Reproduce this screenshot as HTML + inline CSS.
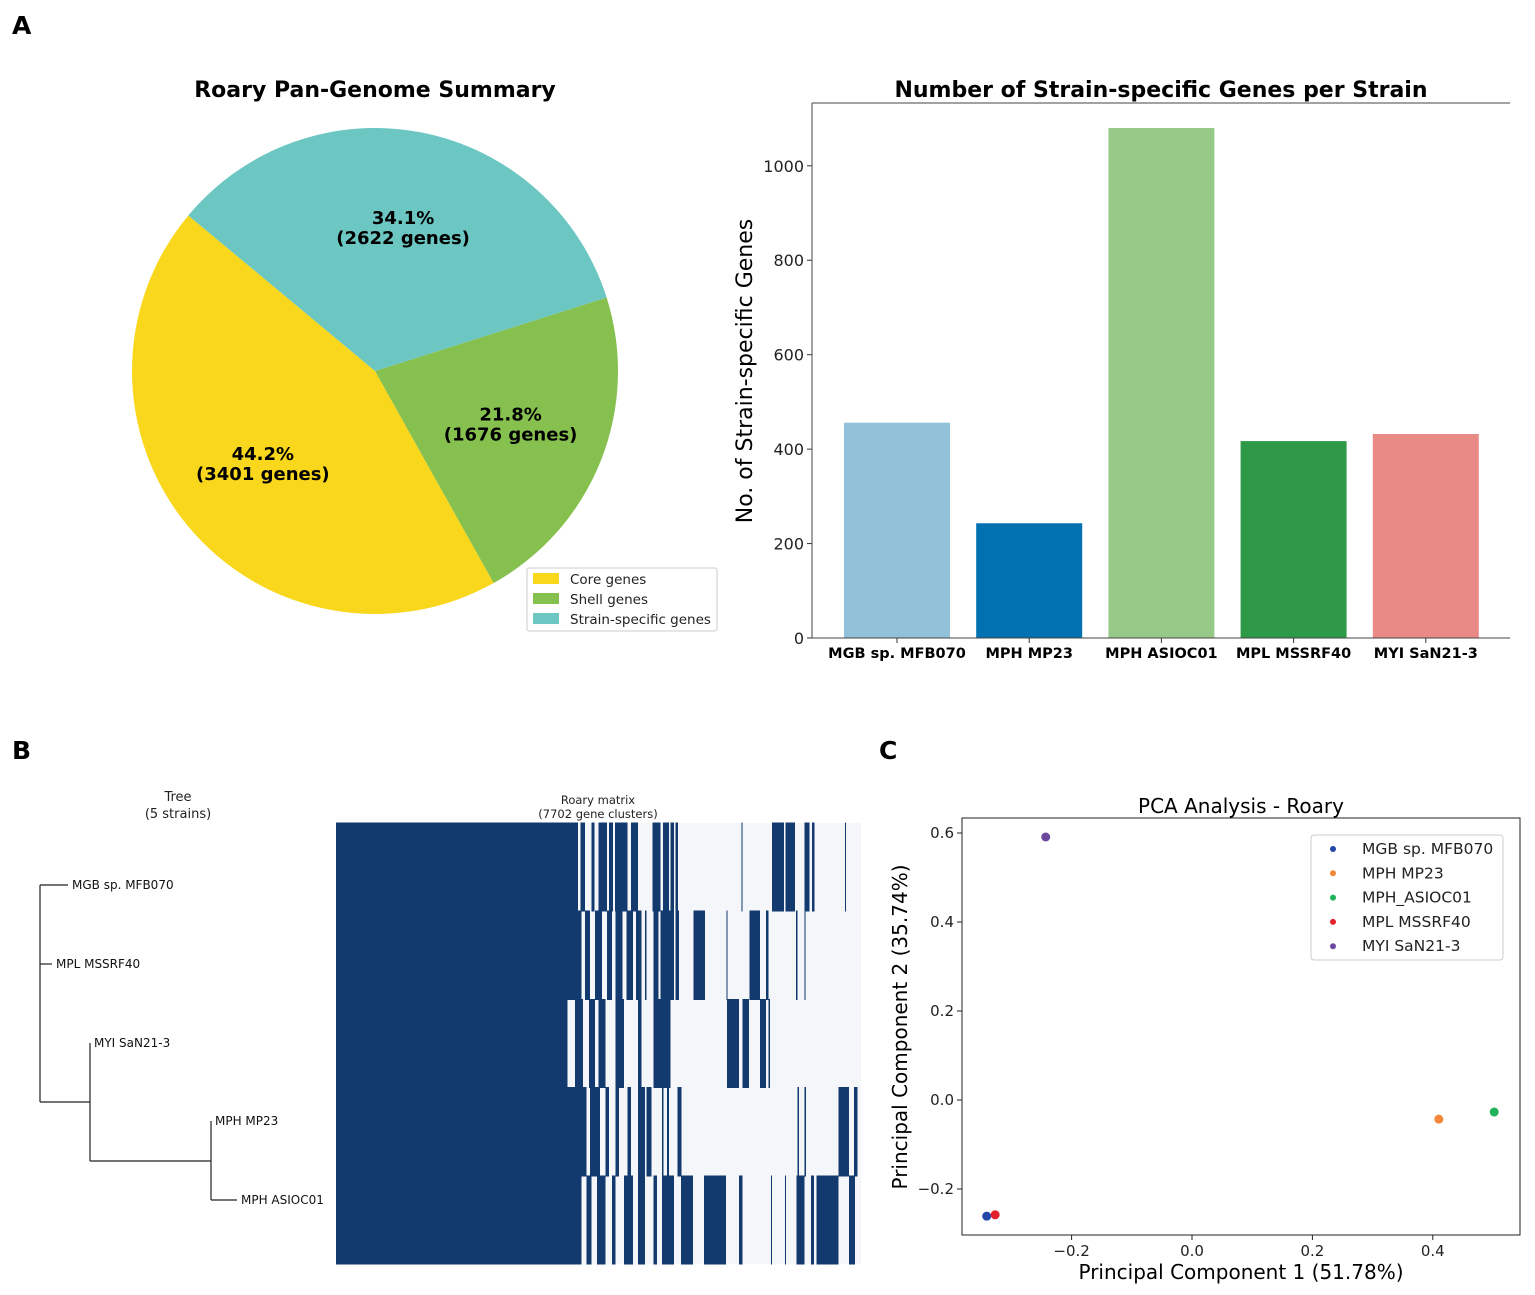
<!DOCTYPE html>
<html><head><meta charset="utf-8"><style>
html,body{margin:0;padding:0;background:#fff;}
svg{display:block;font-family:"DejaVu Sans","Liberation Sans",sans-serif;}
</style></head><body>
<svg id="fig" width="1535" height="1295" viewBox="0 0 1535 1295">
<text x="12" y="34" font-size="25" font-weight="bold">A</text>
<text x="12" y="759" font-size="25" font-weight="bold">B</text>
<text x="879" y="759" font-size="25" font-weight="bold">C</text>

<g id="pie">
<text x="375" y="97" font-size="22" font-weight="bold" text-anchor="middle">Roary Pan-Genome Summary</text>
</g>
<g id="pieLegend">
<rect x="527" y="568" width="190" height="63" fill="#fff" stroke="#ccc" rx="2"/>
</g>

<g id="bar">
<text x="1161" y="97" font-size="22" font-weight="bold" text-anchor="middle">Number of Strain-specific Genes per Strain</text>
<text transform="translate(752,371) rotate(-90)" font-size="22" text-anchor="middle">No. of Strain-specific Genes</text>
</g>

<g id="tree">
<text x="178" y="801" font-size="13" text-anchor="middle" fill="#222">Tree</text>
<text x="178" y="818" font-size="13" text-anchor="middle" fill="#222">(5 strains)</text>
</g>

<g id="heat" shape-rendering="crispEdges">
<text x="598" y="804" font-size="11.5" text-anchor="middle" fill="#222">Roary matrix</text>
<text x="598" y="818" font-size="11.5" text-anchor="middle" fill="#222">(7702 gene clusters)</text>
</g>

<g id="pca">
<text x="1241" y="813" font-size="20" text-anchor="middle">PCA Analysis - Roary</text>
<text x="1241" y="1279" font-size="20" text-anchor="middle">Principal Component 1 (51.78%)</text>
<text transform="translate(907,1027) rotate(-90)" font-size="20" text-anchor="middle">Principal Component 2 (35.74%)</text>
</g>
</svg>
<script>
// ---------- Pie data ----------
const pieLabels = ["Core genes","Shell genes","Strain-specific genes"];
const pieGenes = [3401, 1676, 2622];
const piePercent = ["44.2%","21.8%","34.1%"];
const pieColors = ["#f9d71c","#86c04f","#6cc6c2"];
// ---------- Bar data ----------
const barCategories = ["MGB sp. MFB070","MPH MP23","MPH ASIOC01","MPL MSSRF40","MYI SaN21-3"];
const barValues = [456, 243, 1080, 417, 432];
const barColors = ["#92c2d9","#0271b1","#97ca89","#2e9a48","#ea8a87"];
const barTicks = [0,200,400,600,800,1000];
// ---------- PCA data ----------
const pcaNames = ["MGB sp. MFB070","MPH MP23","MPH_ASIOC01","MPL MSSRF40","MYI SaN21-3"];
const pcaX = [-0.341, 0.410, 0.502, -0.327, -0.243];
const pcaY = [-0.261, -0.043, -0.027, -0.258, 0.591];
const pcaColors = ["#2347a8","#f4883a","#21b35c","#e5202d","#6a48a0"];
const pcaXTicks = [-0.2, 0.0, 0.2, 0.4];
const pcaYTicks = [-0.2, 0.0, 0.2, 0.4, 0.6];
// ---------- Tree data ----------
const treeLeaves = ["MGB sp. MFB070","MPL MSSRF40","MYI SaN21-3","MPH MP23","MPH ASIOC01"];
const treeDepth = [0.28, 0.12, 0.50, 1.71, 1.97];
// ---------- Heatmap data (segments of present gene-cluster bins, bin domain 15..1545) ----------
const heatRows = ["MGB sp. MFB070","MPL MSSRF40","MYI SaN21-3","MPH MP23","MPH ASIOC01"];
const heatSegments = [
 [[15,720],[727,740],[760,768],[780,805],[810,822],[828,865],[875,895],[938,960],[968,985],[990,1000],[1005,1012],[1197,1200],[1285,1320],[1325,1352],[1380,1395],[1402,1410],[1498,1501]],
 [[15,730],[740,755],[770,790],[805,820],[830,850],[862,880],[890,905],[915,920],[940,955],[960,1000],[1005,1015],[1057,1090],[1153,1155],[1220,1250],[1268,1275],[1355,1360],[1380,1383]],
 [[15,690],[712,735],[752,770],[780,800],[830,855],[895,905],[940,990],[1155,1190],[1200,1218],[1250,1268],[1275,1280]],
 [[15,745],[755,785],[800,810],[830,840],[865,875],[895,915],[920,935],[965,970],[980,985],[1010,1022],[1360,1365],[1380,1385],[1480,1510],[1525,1535]],
 [[15,730],[745,760],[775,800],[820,830],[855,880],[895,915],[940,950],[965,1000],[1020,1055],[1088,1152],[1190,1200],[1282,1285],[1323,1326],[1357,1380],[1400,1408],[1415,1480],[1510,1527]]
];

const NS="http://www.w3.org/2000/svg";
function mk(parent,tag,attrs){const e=document.createElementNS(NS,tag);for(const k in attrs)e.setAttribute(k,attrs[k]);parent.appendChild(e);return e;}

// ---------- Pie ----------
(function(){
 const g=document.getElementById('pie');
 const cx=375,cy=371,r=243,start=140.2;
 const total=pieGenes.reduce((a,b)=>a+b,0);
 let a=start;
 pieGenes.forEach((v,i)=>{
  const sweep=v/total*360;
  const a0=a*Math.PI/180,a1=(a+sweep)*Math.PI/180;
  const x0=cx+r*Math.cos(a0),y0=cy-r*Math.sin(a0),x1=cx+r*Math.cos(a1),y1=cy-r*Math.sin(a1);
  const p=mk(g,'path',{d:`M${cx},${cy} L${x0},${y0} A${r},${r} 0 ${sweep>180?1:0} 0 ${x1},${y1} Z`,fill:pieColors[i]});
  
  
  const am=(a+sweep/2)*Math.PI/180,lr=r*0.6;
  const lx=cx+lr*Math.cos(am),ly=cy-lr*Math.sin(am);
  const t1=mk(g,'text',{x:lx,y:ly-4,'font-size':18,'font-weight':'bold','text-anchor':'middle'});t1.textContent=piePercent[i];
  
  
  const t2=mk(g,'text',{x:lx,y:ly+16,'font-size':18,'font-weight':'bold','text-anchor':'middle'});t2.textContent='('+pieGenes[i]+' genes)';
  
  
  a+=sweep;
 });
 const lg=document.getElementById('pieLegend');
 pieLabels.forEach((l,i)=>{
  const y=579+i*20;
  const s=mk(lg,'rect',{x:533,y:y-6,width:26,height:11,fill:pieColors[i]});
  
  
  const t=mk(lg,'text',{x:570,y:y+5,'font-size':13.5,fill:'#222'});t.textContent=l;
  
  
 });
})();

// ---------- Bar ----------
(function(){
 const g=document.getElementById('bar');
 const L=812,R=1510,T=103,B=638,ymax=1133;
 const ys=v=>B-(v/ymax)*(B-T);
 const xs=i=>897+132.2*i;
 barValues.forEach((v,i)=>{
  const r=mk(g,'rect',{x:xs(i)-53,y:ys(v),width:106,height:B-ys(v),fill:barColors[i]});
  
  
  mk(g,'line',{x1:xs(i),x2:xs(i),y1:B,y2:B+5,stroke:'#333'});
  const t=mk(g,'text',{x:xs(i),y:B+20,'font-size':14.5,'font-weight':'bold','text-anchor':'middle'});t.textContent=barCategories[i];
  
  
 });
 barTicks.forEach(v=>{
  mk(g,'line',{x1:L-5,x2:L,y1:ys(v),y2:ys(v),stroke:'#333'});
  const t=mk(g,'text',{x:L-8,y:ys(v)+6,'font-size':16,'text-anchor':'end',fill:'#222'});t.textContent=v;
  
  
 });
 mk(g,'line',{x1:L,x2:L,y1:T,y2:B,stroke:'#444','stroke-width':1});
 mk(g,'line',{x1:L,x2:R,y1:B,y2:B,stroke:'#444','stroke-width':1});
 mk(g,'line',{x1:L,x2:R,y1:T,y2:T,stroke:'#444','stroke-width':1});
})();

// ---------- Tree ----------
(function(){
 const g=document.getElementById('tree');
 const x0=40,unit=100;
 const ly=[885,964,1043,1121,1200];
 const X=d=>x0+d*unit;
 const st={stroke:'#222','stroke-width':1.2,fill:'none'};
 const nodeA=X(0.5), nodeB=X(1.71);
 mk(g,'path',Object.assign({d:`M${x0},${ly[0]} V1102 M${x0},1102 H${nodeA} M${nodeA},${ly[2]} V1161 M${nodeA},1161 H${nodeB} M${nodeB},${ly[3]} V${ly[4]}`},st));
 treeLeaves.forEach((n,i)=>{
  const startX = i<2?x0:(i===2?nodeA:nodeB);
  mk(g,'line',Object.assign({x1:startX,x2:X(treeDepth[i]),y1:ly[i],y2:ly[i]},st));
  const t=mk(g,'text',{x:X(treeDepth[i])+4,y:ly[i]+4,'font-size':12,fill:'#111'});t.textContent=n;
  
  
 });
})();

// ---------- Heatmap ----------
(function(){
 const g=document.getElementById('heat');
 const L=336,R=861,T=823,B=1264;
 const xs=b=>L+(b-15)/(1545-15)*(R-L);
 const rh=(B-T)/heatRows.length;
 mk(g,'rect',{x:L,y:T,width:R-L,height:B-T,fill:'#f5f6f9'});
 heatSegments.forEach((segs,ri)=>{
  segs.forEach(s=>{
   const r=mk(g,'rect',{x:xs(s[0]),y:T+ri*rh-0.5,width:Math.max(1,xs(s[1])-xs(s[0])),height:rh+1,fill:'#123a6f'});
   
   
  });
 });
})();

// ---------- PCA ----------
(function(){
 const g=document.getElementById('pca');
 const L=962,R=1520,T=818,B=1235;
 const xs=v=>1192+v*602, ys=v=>1100-v*445;
 mk(g,'rect',{x:L,y:T,width:R-L,height:B-T,fill:'none',stroke:'#222','stroke-width':1});
 pcaXTicks.forEach(v=>{
  mk(g,'line',{x1:xs(v),x2:xs(v),y1:B,y2:B+5,stroke:'#222'});
  const t=mk(g,'text',{x:xs(v),y:B+21,'font-size':15,'text-anchor':'middle',fill:'#222'});t.textContent=(v<0?'\u2212':'')+Math.abs(v).toFixed(1);
  
  
 });
 pcaYTicks.forEach(v=>{
  mk(g,'line',{x1:L-5,x2:L,y1:ys(v),y2:ys(v),stroke:'#222'});
  const t=mk(g,'text',{x:L-8,y:ys(v)+5,'font-size':15,'text-anchor':'end',fill:'#222'});t.textContent=(v<0?'\u2212':'')+Math.abs(v).toFixed(1);
  
  
 });
 pcaX.forEach((x,i)=>{
  const c=mk(g,'circle',{cx:xs(x),cy:ys(pcaY[i]),r:4.5,fill:pcaColors[i]});
  
  
 });
 const lb=mk(g,'rect',{x:1311,y:835,width:192,height:125,fill:'#fff',stroke:'#ccc',rx:3});
 
 
 pcaNames.forEach((n,i)=>{
  const y=848+i*24.3;
  mk(g,'circle',{cx:1333,cy:y+1,r:3,fill:pcaColors[i]});
  const t=mk(g,'text',{x:1362,y:y+6,'font-size':15.5,fill:'#222'});t.textContent=n;
  
  
 });
})();
</script>
</body></html>
